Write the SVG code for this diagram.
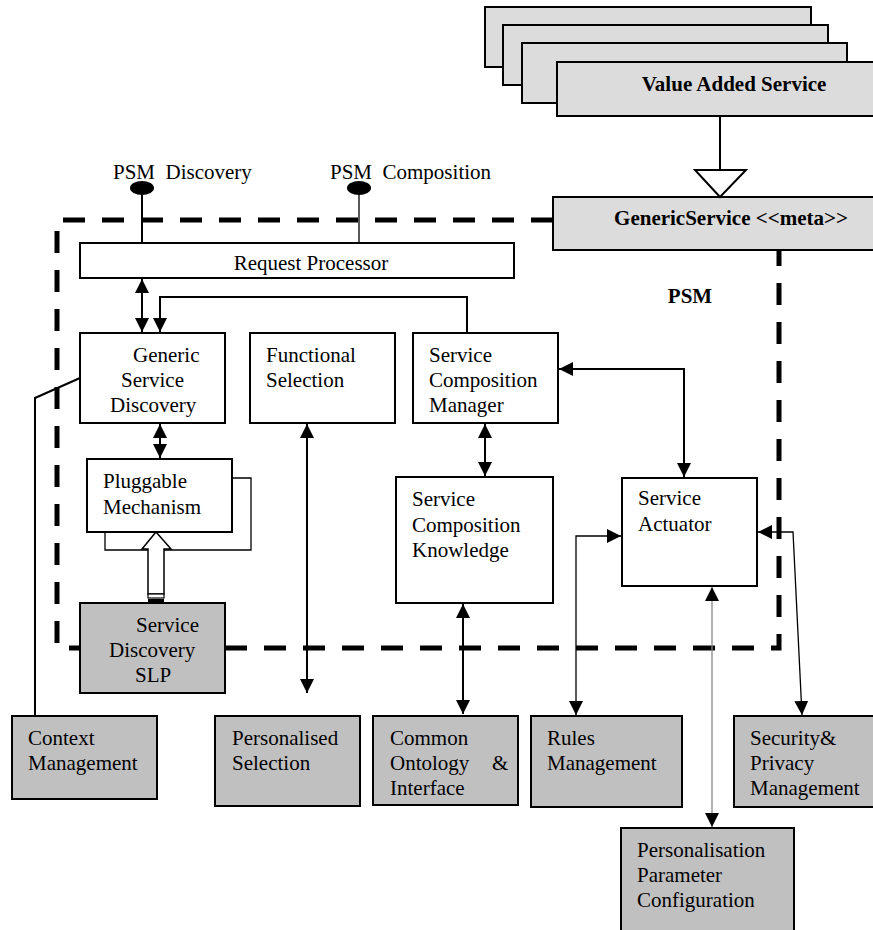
<svg xmlns="http://www.w3.org/2000/svg" width="873" height="930" viewBox="0 0 873 930">
<style>
text{font-family:"Liberation Serif","Times New Roman",serif;font-size:21px;fill:#000}
.b{font-weight:bold}
.pre{white-space:pre}
.box{fill:#fff;stroke:#000;stroke-width:2}
.g{fill:#c0c0c0;stroke:#000;stroke-width:2}
.lg{fill:#dcdcdc;stroke:#000;stroke-width:2}
.c{fill:none;stroke:#000;stroke-width:2}
.t{fill:none;stroke:#000;stroke-width:1.3}
</style>
<defs>
<marker id="ah" viewBox="0 0 10 10" refX="10" refY="5" markerWidth="14" markerHeight="14" markerUnits="userSpaceOnUse" orient="auto-start-reverse"><path d="M0,0 L10,5 L0,10 z" fill="#000"/></marker>
</defs>

<g id="vas-stack">
<rect class="lg" x="485" y="7" width="326" height="60"/>
<rect class="lg" x="503" y="25" width="325" height="60"/>
<rect class="lg" x="522" y="43" width="325" height="60"/>
</g>
<g id="value-added-service">
<rect class="lg" x="557" y="62" width="320" height="54"/>
<text class="b" x="734" y="91" text-anchor="middle">Value Added Service</text>
</g>

<g id="psm-boundary">
<path d="M553,220 H57 V648 H779 V250" fill="none" stroke="#000" stroke-width="5" stroke-dasharray="22 17"/>
<text class="b" x="690" y="303" text-anchor="middle">PSM</text>
</g>

<g id="generic-service">
<rect class="lg" x="553" y="197" width="324" height="53"/>
<text class="b" x="731" y="225" text-anchor="middle">GenericService &lt;&lt;meta&gt;&gt;</text>
</g>

<g id="psm-discovery">
<text class="pre" xml:space="preserve" x="113" y="179">PSM  Discovery</text>
<ellipse cx="142" cy="188" rx="12" ry="7" fill="#000"/>
</g>
<g id="psm-composition">
<text class="pre" xml:space="preserve" x="330" y="179">PSM  Composition</text>
<ellipse cx="359" cy="188" rx="12" ry="7" fill="#000"/>
</g>

<g id="request-processor">
<rect class="box" x="80" y="243" width="434" height="35"/>
<text x="311" y="270" text-anchor="middle">Request Processor</text>
</g>

<g id="generic-service-discovery">
<rect class="box" x="80" y="333" width="145" height="90"/>
<text x="133" y="362">Generic</text>
<text x="121" y="387">Service</text>
<text x="110" y="412">Discovery</text>
</g>

<g id="functional-selection">
<rect class="box" x="250" y="333" width="145" height="90"/>
<text x="266" y="362">Functional</text>
<text x="266" y="387">Selection</text>
</g>

<g id="service-composition-manager">
<rect class="box" x="413" y="333" width="145" height="90"/>
<text x="429" y="362">Service</text>
<text x="429" y="387">Composition</text>
<text x="429" y="412">Manager</text>
</g>

<g id="pluggable-mechanism">
<rect class="box" x="87" y="459" width="145" height="73"/>
<text x="103" y="488">Pluggable</text>
<text x="103" y="514">Mechanism</text>
</g>

<g id="service-composition-knowledge">
<rect class="box" x="396" y="477" width="157" height="126"/>
<text x="412" y="506">Service</text>
<text x="412" y="532">Composition</text>
<text x="412" y="557">Knowledge</text>
</g>

<g id="service-actuator">
<rect class="box" x="622" y="478" width="135" height="108"/>
<text x="638" y="505">Service</text>
<text x="638" y="531">Actuator</text>
</g>

<g id="service-discovery-slp">
<rect class="g" x="80" y="603" width="145" height="90"/>
<text x="136" y="632">Service</text>
<text x="109" y="657">Discovery</text>
<text x="135" y="682">SLP</text>
</g>

<g id="context-management">
<rect class="g" x="12" y="716" width="145" height="83"/>
<text x="28" y="745">Context</text>
<text x="28" y="770">Management</text>
</g>

<g id="personalised-selection">
<rect class="g" x="215" y="716" width="145" height="90"/>
<text x="232" y="745">Personalised</text>
<text x="232" y="770">Selection</text>
</g>

<g id="common-ontology">
<rect class="g" x="373" y="716" width="145" height="89"/>
<text x="390" y="745">Common</text>
<text x="390" y="770">Ontology</text>
<text x="492" y="770">&amp;</text>
<text x="390" y="795">Interface</text>
</g>

<g id="rules-management">
<rect class="g" x="531" y="716" width="151" height="91"/>
<text x="547" y="745">Rules</text>
<text x="547" y="770">Management</text>
</g>

<g id="security-privacy-management">
<rect class="g" x="734" y="716" width="143" height="91"/>
<text x="750" y="745">Security&amp;</text>
<text x="750" y="770">Privacy</text>
<text x="750" y="795">Management</text>
</g>

<g id="personalisation-parameter-configuration">
<rect class="g" x="621" y="828" width="173" height="106"/>
<text x="637" y="857">Personalisation</text>
<text x="637" y="882">Parameter</text>
<text x="637" y="907">Configuration</text>
</g>

<g id="connectors">
<line class="c" x1="720" y1="116" x2="720" y2="170"/>
<polygon points="695,170 746,170 720,197" fill="#fff" stroke="#000" stroke-width="2"/>
<line class="c" x1="142" y1="195" x2="142" y2="243"/>
<line class="t" x1="359" y1="195" x2="359" y2="243"/>
<line class="c" x1="142" y1="279" x2="142" y2="332" marker-start="url(#ah)" marker-end="url(#ah)"/>
<polyline class="c" points="467,333 467,297 160,297 160,332" marker-end="url(#ah)"/>
<polyline class="c" points="80,378 35,398 35,716"/>
<line class="c" x1="160" y1="424" x2="160" y2="458" marker-start="url(#ah)" marker-end="url(#ah)"/>
<line class="c" x1="485" y1="424" x2="485" y2="476" marker-start="url(#ah)" marker-end="url(#ah)"/>
<polyline class="t" points="232,478 251,478 251,550 105,550 105,532"/>
<polygon points="148,594 148,549 142,549 156,532 171,549 164,549 164,594" fill="#fff" stroke="#000" stroke-width="1.5"/>
<rect x="148" y="594" width="16" height="4" fill="#fff" stroke="#000" stroke-width="1.2"/>
<rect x="148" y="599" width="16" height="4" fill="#000"/>
<line class="c" x1="307" y1="424" x2="307" y2="693" marker-start="url(#ah)" marker-end="url(#ah)"/>
<line class="c" x1="463" y1="604" x2="463" y2="714" marker-start="url(#ah)" marker-end="url(#ah)"/>
<polyline class="c" points="559,369 684,369 684,477" marker-start="url(#ah)" marker-end="url(#ah)"/>
<polyline class="t" points="621,536 576,536 576,715" marker-start="url(#ah)" marker-end="url(#ah)"/>
<polyline class="t" points="758,532 793,532 802,715" marker-start="url(#ah)" marker-end="url(#ah)"/>
<line x1="712" y1="587" x2="712" y2="827" stroke="#888" stroke-width="1.3" marker-start="url(#ah)" marker-end="url(#ah)"/>
</g>
</svg>
